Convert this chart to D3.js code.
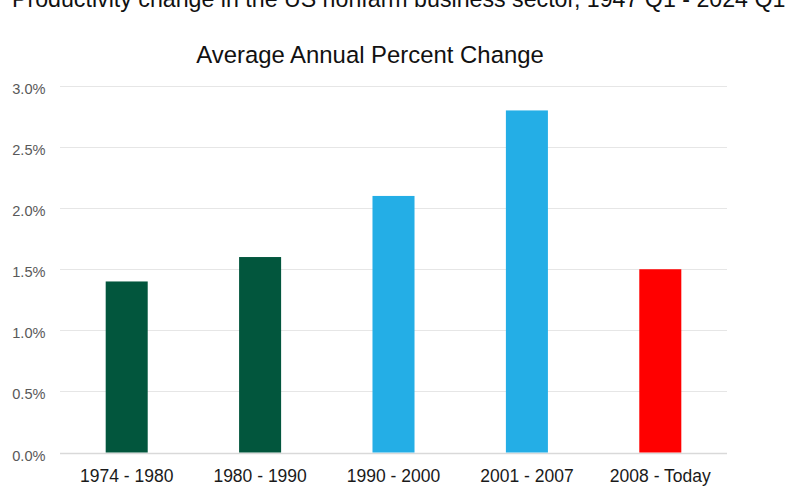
<!DOCTYPE html>
<html>
<head>
<meta charset="utf-8">
<script src="https://cdn.jsdelivr.net/npm/d3@7"></script>
<style>
  html, body { margin: 0; padding: 0; background: #fff; }
  svg { display: block; font-family: "Liberation Sans", Arial, sans-serif; }
</style>
</head>
<body>
<svg id="chart" width="800" height="500"></svg>
<script>
const categories = ["1974 - 1980", "1980 - 1990", "1990 - 2000", "2001 - 2007", "2008 - Today"];
const values = [1.4, 1.6, 2.1, 2.8, 1.5];
const barColors = ["#02563d", "#02563d", "#24aee6", "#24aee6", "#ff0000"];
const yTicks = [0, 0.5, 1.0, 1.5, 2.0, 2.5, 3.0];
const topTitle = "Productivity change in the US nonfarm business sector, 1947 Q1 - 2024 Q1";
const chartTitle = "Average Annual Percent Change";

const svg = d3.select("#chart");
const margin = { left: 60, right: 73, top: 86, bottom: 48 };
const W = 800, H = 500;

const x = d3.scaleBand()
  .domain(categories)
  .range([margin.left, W - margin.right])
  .paddingInner(0.685)
  .paddingOuter(0.3425);

const y = d3.scaleLinear()
  .domain([0, 3.0])
  .range([452.5, 86]);

// cut-off top title (cropped at the top edge in the reference)
svg.append("text")
  .attr("x", 12)
  .attr("y", 7)
  .attr("font-size", 23.2)
  .attr("fill", "#111")
  .text(topTitle);

// chart title
svg.append("text")
  .attr("x", 370)
  .attr("y", 63)
  .attr("text-anchor", "middle")
  .attr("font-size", 23.9)
  .attr("fill", "#111")
  .text(chartTitle);

// gridlines
svg.append("g")
  .selectAll("line")
  .data(yTicks)
  .join("line")
  .attr("x1", margin.left)
  .attr("x2", W - margin.right)
  .attr("y1", d => Math.round(y(d)) + 0.5)
  .attr("y2", d => Math.round(y(d)) + 0.5)
  .attr("stroke", d => d === 0 ? "#d9d9d9" : "#e6e6e6")
  .attr("stroke-width", d => d === 0 ? 1.5 : 1);

// y axis labels
const yAxis = d3.axisLeft(y)
  .tickValues(yTicks)
  .tickFormat(d => d.toFixed(1) + "%")
  .tickSize(0)
  .tickPadding(0);
const yg = svg.append("g")
  .attr("transform", `translate(45.5,0)`)
  .call(yAxis);
yg.select(".domain").remove();
yg.selectAll("text")
  .attr("font-size", 14.6)
  .attr("dy", "0")
  .attr("y", 7.5)
  .attr("fill", "#595959")
  .attr("font-family", "Liberation Sans, Arial, sans-serif");

// bars
svg.append("g")
  .selectAll("rect")
  .data(values)
  .join("rect")
  .attr("x", (d, i) => x(categories[i]))
  .attr("width", x.bandwidth())
  .attr("y", d => y(d))
  .attr("height", d => y(0) - y(d))
  .attr("fill", (d, i) => barColors[i]);

// x axis labels
const xAxis = d3.axisBottom(x).tickSize(0).tickPadding(0);
const xg = svg.append("g")
  .attr("transform", `translate(0,481.5)`)
  .call(xAxis);
xg.select(".domain").remove();
xg.selectAll("text")
  .attr("font-size", 17.5)
  .attr("dy", "0")
  .attr("y", 0)
  .attr("fill", "#1a1a1a")
  .attr("font-family", "Liberation Sans, Arial, sans-serif");
</script>
</body>
</html>
